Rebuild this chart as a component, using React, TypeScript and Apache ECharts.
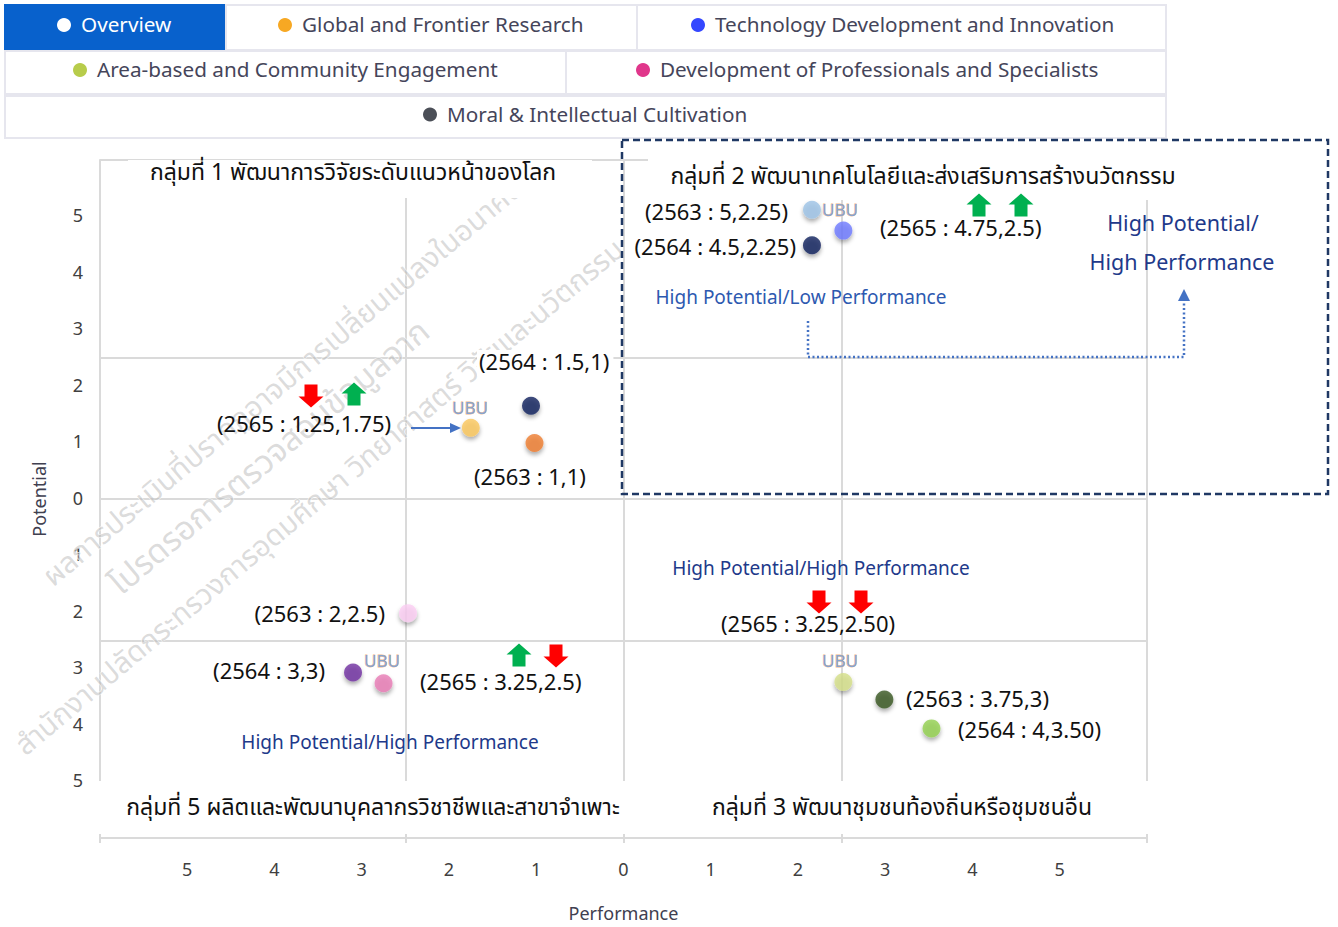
import React, { useEffect, useRef } from 'react';
import * as echarts from 'echarts';

// ---------- data ----------
const POINT_NAMES = [
  'G1 UBU', 'G1 2564', 'G1 2563',
  'G2 2563', 'G2 UBU', 'G2 2564',
  'G5 2563', 'G5 2564', 'G5 UBU',
  'G3 UBU', 'G3 2563', 'G3 2564',
];
// plotted positions (signed quadrant coordinates as drawn)
const PERFORMANCE = [-1.75, -1.06, -1.02, 2.16, 2.52, 2.16, -2.47, -3.1, -2.75, 2.52, 2.99, 3.53];
const POTENTIAL = [1.26, 1.65, 0.99, 5.12, 4.75, 4.49, -2.02, -3.07, -3.26, -3.24, -3.55, -4.06];
const POINT_COLORS = [
  '#fac75c', '#0c1f5c', '#ed7d31',
  '#9dc3e6', '#6e7bff', '#0c1f5c',
  '#fbcdf3', '#7030a0', '#e97cb5',
  '#d5df8a', '#375623', '#92d050',
];

const X_TICKS = [-6, -2.5, 0, 2.5, 6];
const GRID_H = [6, 2.5, 0, -2.5];
const GRID_V = [-2.5, 0, 2.5, 6];

const LEGEND_ITEMS = [
  'Overview',
  'Global and Frontier Research',
  'Technology Development and Innovation',
  'Area-based and Community Engagement',
  'Development of Professionals and Specialists',
  'Moral & Intellectual Cultivation',
];
const LEGEND_COLORS = ['#ffffff', '#f7a823', '#3447ff', '#b7cc4b', '#e0368b', '#4b4f57'];

const GROUP_TITLES = [
  'กลุ่มที่ 1 พัฒนาการวิจัยระดับแนวหน้าของโลก',
  'กลุ่มที่ 2 พัฒนาเทคโนโลยีและส่งเสริมการสร้างนวัตกรรม',
  'กลุ่มที่ 5 ผลิตและพัฒนาบุคลากรวิชาชีพและสาขาจำเพาะ',
  'กลุ่มที่ 3 พัฒนาชุมชนท้องถิ่นหรือชุมชนอื่น',
];

const POINT_LABELS = [
  '(2564 : 1.5,1)', '(2565 : 1.25,1.75)', '(2563 : 1,1)',
  '(2563 : 5,2.25)', '(2564 : 4.5,2.25)', '(2565 : 4.75,2.5)',
  '(2563 : 2,2.5)', '(2564 : 3,3)', '(2565 : 3.25,2.5)',
  '(2565 : 3.25,2.50)', '(2563 : 3.75,3)', '(2564 : 4,3.50)',
];

const QUADRANT_NOTES = [
  'High Potential/',
  'High Performance',
  'High Potential/Low Performance',
  'High Potential/High Performance',
  'High Potential/High Performance',
];

const WATERMARK = [
  'ผลการประเมินที่ปรากฏอาจมีการเปลี่ยนแปลงในอนาคต',
  'โปรดรอการตรวจสอบข้อมูลจาก',
  'สำนักงานปลัดกระทรวงการอุดมศึกษา วิทยาศาสตร์ วิจัยและนวัตกรรม',
];

// ---------- styles / layout ----------
const FONT = "Tahoma, 'Noto Sans Thai', 'Noto Sans', sans-serif";
const LINE_COLOR = '#dadada';
const NOTE_COLOR = '#21398a';
const LABEL_SIZE = 22;
const TITLE_SIZE = 23;

function blockArrow(cx: number, cy: number, up: boolean, color: string) {
  const w = 25, h = 23, sw = 13, hh = 11;
  const s = up ? 1 : -1;
  const top = cy - (s * h) / 2;
  const neck = top + s * hh;
  const bottom = cy + (s * h) / 2;
  return {
    type: 'polygon',
    z: 5,
    silent: true,
    shape: {
      points: [
        [cx, top],
        [cx + w / 2, neck],
        [cx + sw / 2, neck],
        [cx + sw / 2, bottom],
        [cx - sw / 2, bottom],
        [cx - sw / 2, neck],
        [cx - w / 2, neck],
      ],
    },
    style: { fill: color },
  };
}

function txt(text: string, x: number, y: number, align: string, size: number, color: string, extra: any = {}) {
  return {
    type: 'text',
    z: 5,
    silent: true,
    x,
    y,
    style: {
      text,
      x: 0,
      y: 0,
      fill: color,
      font: `${size}px ${FONT}`,
      textAlign: align,
      textVerticalAlign: 'middle',
      ...extra,
    },
  };
}

function buildGraphics() {
  const g: any[] = [];
  // legend cells
  const cells = [
    [5, 226, 5, 50, 64],
    [226, 637, 5, 50, 285],
    [637, 1166, 5, 50, 698],
    [5, 566, 51, 94, 80],
    [566, 1166, 51, 94, 643],
    [5, 1166, 96, 138, 430],
  ];
  cells.forEach((c, i) => {
    const [x0, x1, y0, y1, dx] = c;
    g.push({
      type: 'rect',
      z: 5,
      silent: true,
      shape: { x: x0, y: y0, width: x1 - x0, height: y1 - y0 },
      style: { fill: i === 0 ? '#0861cc' : '#ffffff', stroke: i === 0 ? '#0861cc' : '#e6e6ee', lineWidth: 2 },
    });
    const cy = (y0 + y1) / 2 - 3.5;
    g.push({
      type: 'circle',
      z: 6,
      silent: true,
      shape: { cx: dx, cy: cy + 1, r: 7 },
      style: { fill: LEGEND_COLORS[i] },
    });
    g.push({
      ...txt(LEGEND_ITEMS[i], dx + 17, cy, 'left', 20, i === 0 ? '#ffffff' : '#45455a', {
        font: "20.7px 'Noto Sans', sans-serif",
      }),
      z: 6,
    });
  });

  // watermark
  const rot = (40 * Math.PI) / 180;
  [
    [WATERMARK[0], 520, 184, 'right', 29],
    [WATERMARK[1], 270, 458, 'center', 33],
    [WATERMARK[2], 620, 246, 'right', 29],
  ].forEach(([t, x, y, a, fs]: any) => {
    g.push({
      type: 'text',
      z: 2,
      silent: true,
      x,
      y,
      rotation: rot,
      style: {
        text: t,
        fill: 'rgba(175,175,175,0.45)',
        stroke: 'rgba(255,255,255,0.8)',
        lineWidth: 1,
        font: `${fs}px ${FONT}`,
        textAlign: a,
        textVerticalAlign: 'middle',
      },
    });
  });

  // white bands behind group titles
  const bands = [
    [128, 160, 464, 38],
    [648, 158, 500, 42],
    [96, 781, 1056, 53],
  ];
  bands.forEach(([x, y, w, h]) => {
    g.push({ type: 'rect', z: 3, silent: true, shape: { x, y, width: w, height: h }, style: { fill: '#ffffff' } });
  });

  // group titles
  g.push(txt(GROUP_TITLES[0], 353, 173, 'center', TITLE_SIZE, '#111111'));
  g.push(txt(GROUP_TITLES[1], 923, 177, 'center', TITLE_SIZE, '#111111'));
  g.push(txt(GROUP_TITLES[2], 373, 808, 'center', TITLE_SIZE, '#111111'));
  g.push(txt(GROUP_TITLES[3], 902, 808, 'center', TITLE_SIZE, '#111111'));

  // dashed box (group 2)
  g.push({
    type: 'rect',
    z: 5,
    silent: true,
    shape: { x: 622, y: 140, width: 706, height: 354 },
    style: { fill: 'none', stroke: '#1f3864', lineWidth: 2.5, lineDash: [7, 4] },
  });

  // point labels
  const L = POINT_LABELS;
  const K = '#111111';
  g.push(txt(L[0], 477, 363, 'left', LABEL_SIZE, K, { backgroundColor: '#ffffff', padding: [2, 4, 2, 2] }));
  g.push(txt(L[1], 217, 425, 'left', LABEL_SIZE, K));
  g.push(txt(L[2], 474, 478, 'left', LABEL_SIZE, K));
  g.push(txt(L[3], 788, 213, 'right', LABEL_SIZE, K));
  g.push(txt(L[4], 796, 248, 'right', LABEL_SIZE, K));
  g.push(txt(L[5], 880, 229, 'left', LABEL_SIZE, K));
  g.push(txt(L[6], 385, 615, 'right', LABEL_SIZE, K));
  g.push(txt(L[7], 325, 672, 'right', LABEL_SIZE, K));
  g.push(txt(L[8], 420, 683, 'left', LABEL_SIZE, K));
  g.push(txt(L[9], 721, 625, 'left', LABEL_SIZE, K));
  g.push(txt(L[10], 906, 700, 'left', LABEL_SIZE, K));
  g.push(txt(L[11], 958, 731, 'left', LABEL_SIZE, K));

  // UBU tags
  const ubu = { stroke: 'rgba(240,170,110,0.85)', lineWidth: 0.8 };
  g.push(txt('UBU', 470, 409, 'center', 17, '#86a3cf', ubu));
  g.push(txt('UBU', 840, 211, 'center', 17, '#86a3cf', ubu));
  g.push(txt('UBU', 382, 662, 'center', 17, '#86a3cf', ubu));
  g.push(txt('UBU', 840, 662, 'center', 17, '#86a3cf', ubu));

  // quadrant notes
  g.push(txt(QUADRANT_NOTES[0], 1183, 224, 'center', 21.5, NOTE_COLOR));
  g.push(txt(QUADRANT_NOTES[1], 1182, 263, 'center', 21.5, NOTE_COLOR));
  g.push(txt(QUADRANT_NOTES[2], 801, 298, 'center', 19, '#2d59b0'));
  g.push(txt(QUADRANT_NOTES[3], 390, 743, 'center', 19, NOTE_COLOR));
  g.push(txt(QUADRANT_NOTES[4], 821, 569, 'center', 19, NOTE_COLOR));

  // dotted connector
  g.push({
    type: 'polyline',
    z: 5,
    silent: true,
    shape: { points: [[808, 321], [808, 357], [1184, 357], [1184, 300]] },
    style: { stroke: '#4472c4', lineWidth: 2.5, lineDash: [2, 2.5], fill: 'none' },
  });
  g.push({
    type: 'polygon',
    z: 5,
    silent: true,
    shape: { points: [[1178, 301], [1190, 301], [1184, 289]] },
    style: { fill: '#4472c4' },
  });

  // blue arrow (group 1)
  g.push({
    type: 'line',
    z: 5,
    silent: true,
    shape: { x1: 411, y1: 428, x2: 452, y2: 428 },
    style: { stroke: '#4472c4', lineWidth: 2 },
  });
  g.push({
    type: 'polygon',
    z: 5,
    silent: true,
    shape: { points: [[450, 423], [461, 428], [450, 433]] },
    style: { fill: '#4472c4' },
  });

  // trend arrows
  const RED = '#ff0000';
  const GREEN = '#00b050';
  g.push(blockArrow(311, 396, false, RED));
  g.push(blockArrow(354, 394, true, GREEN));
  g.push(blockArrow(979, 205, true, GREEN));
  g.push(blockArrow(1021, 205, true, GREEN));
  g.push(blockArrow(519, 655, true, GREEN));
  g.push(blockArrow(556, 656, false, RED));
  g.push(blockArrow(819, 602, false, RED));
  g.push(blockArrow(861, 602, false, RED));

  return g;
}

export default function App() {
  const ref = useRef<HTMLDivElement>(null);
  useEffect(() => {
    if (!ref.current) return;
    const chart = echarts.init(ref.current, null, { renderer: 'svg' });
    const gridLines: any[] = [];
    GRID_H.forEach((y) => gridLines.push([{ coord: [-6, y] }, { coord: [6, y] }]));
    GRID_V.forEach((x) => gridLines.push([{ coord: [x, -6] }, { coord: [x, 6] }]));

    const absFmt = (v: number) => (Math.abs(v) >= 6 ? '' : String(Math.abs(v)));

    chart.setOption({
      animation: false,
      backgroundColor: '#ffffff',
      grid: { left: 100, top: 160, right: 191, bottom: 89, containLabel: false },
      xAxis: {
        type: 'value',
        min: -6,
        max: 6,
        interval: 1,
        name: 'Performance',
        nameLocation: 'middle',
        nameGap: 66,
        nameTextStyle: { fontSize: 18, color: '#404050', fontFamily: "'Noto Sans', sans-serif" },
        axisLine: { show: true, onZero: false, lineStyle: { color: LINE_COLOR, width: 2 } },
        axisTick: { show: true, length: 5, customValues: X_TICKS, lineStyle: { color: LINE_COLOR, width: 2 } },
        axisLabel: { margin: 23, fontSize: 18, color: '#404040', fontFamily: FONT, formatter: absFmt },
        splitLine: { show: false },
      },
      yAxis: {
        type: 'value',
        min: -6,
        max: 6,
        interval: 1,
        name: 'Potential',
        nameLocation: 'middle',
        nameGap: 52,
        nameRotate: 90,
        nameTextStyle: { fontSize: 18, color: '#404050', fontFamily: "'Noto Sans', sans-serif" },
        axisLine: { show: true, onZero: false, lineStyle: { color: LINE_COLOR, width: 2 } },
        axisTick: { show: false },
        axisLabel: { margin: 17, fontSize: 18, color: '#404040', fontFamily: FONT, formatter: absFmt },
        splitLine: { show: false },
      },
      series: [
        {
          type: 'scatter',
          name: 'grid',
          z: 1,
          silent: true,
          data: [],
          markLine: {
            z: 1,
            silent: true,
            symbol: ['none', 'none'],
            label: { show: false },
            lineStyle: { color: LINE_COLOR, width: 2, type: 'solid' },
            data: gridLines,
          },
        },
        {
          type: 'scatter',
          name: 'points',
          z: 4,
          symbolSize: 18,
          data: PERFORMANCE.map((x, i) => ({
            name: POINT_NAMES[i],
            value: [x, POTENTIAL[i]],
            itemStyle: {
              color: POINT_COLORS[i],
              shadowBlur: 4,
              shadowOffsetY: 3,
              shadowColor: 'rgba(0,0,0,0.4)',
            },
          })),
        },
      ],
      graphic: buildGraphics(),
    });
    return () => chart.dispose();
  }, []);
  return (
    <div
      ref={ref}
      style={{ position: 'fixed', left: 0, top: 0, width: 1338, height: 927, background: '#ffffff' }}
    />
  );
}
